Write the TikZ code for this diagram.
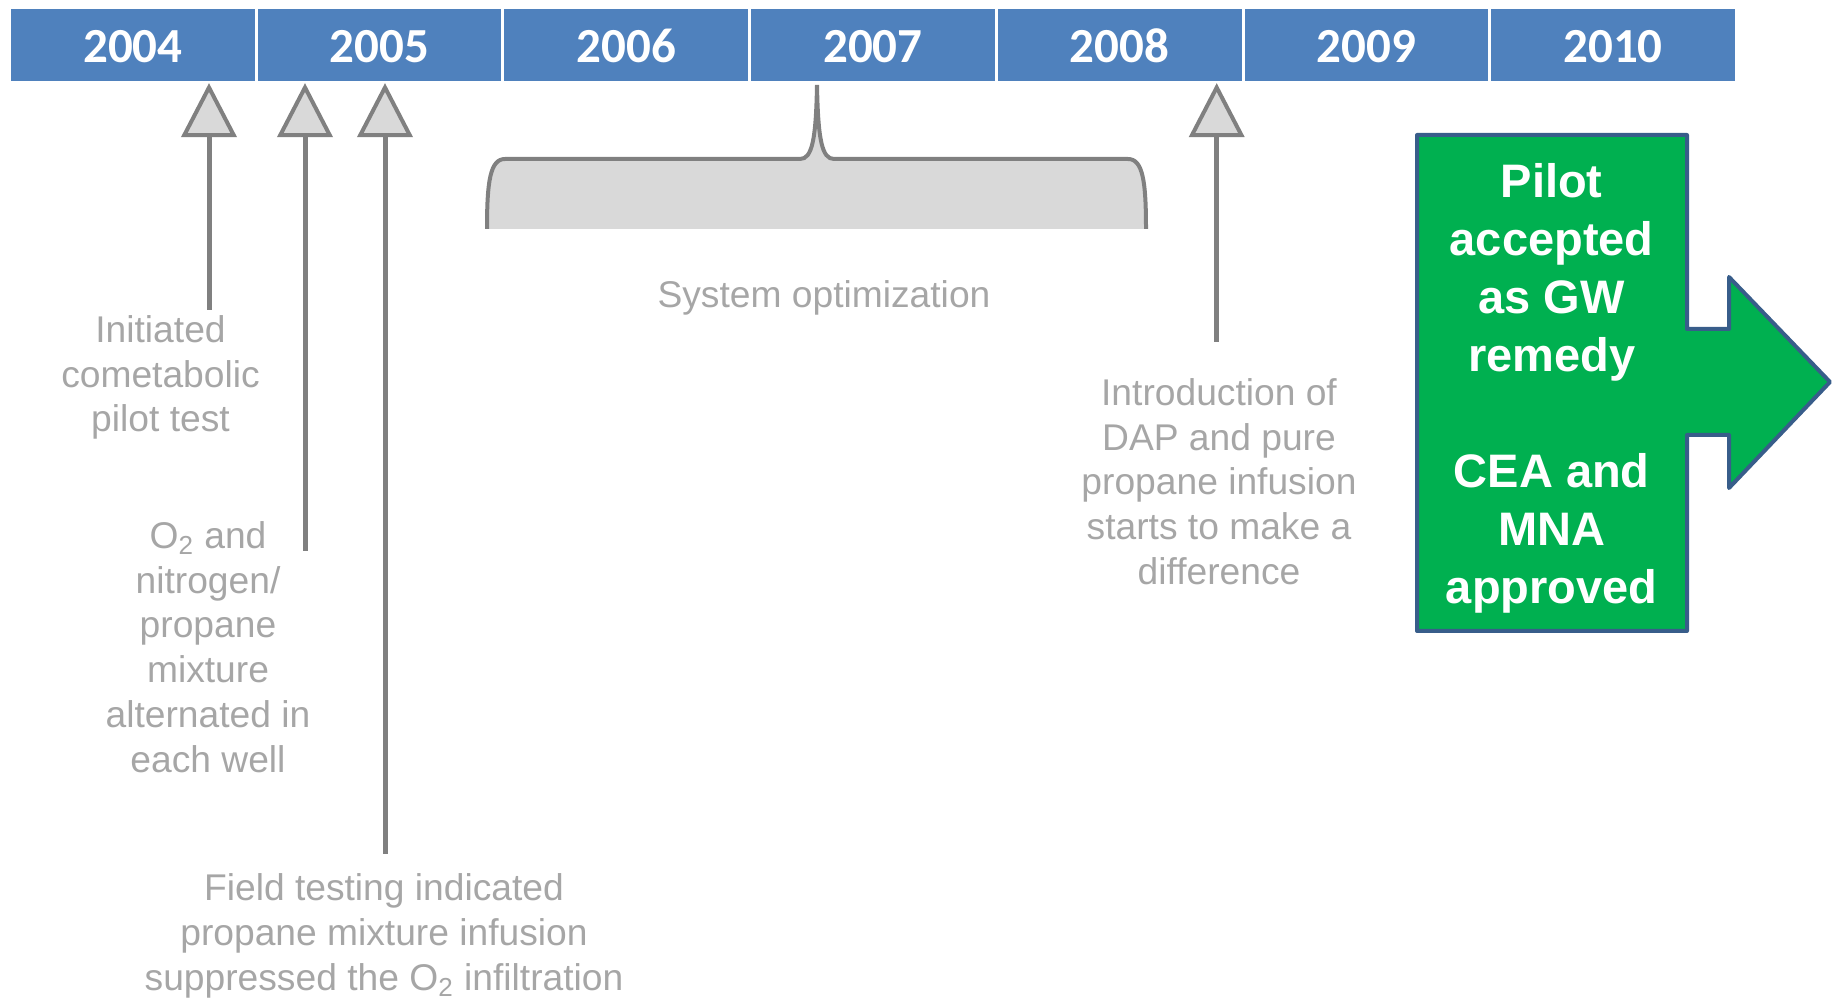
\documentclass[tikz,border=0pt]{standalone}
\usepackage{fontspec}
\setmainfont{Liberation Sans}
\newfontfamily\yearfont{Carlito}
\usetikzlibrary{arrows.meta}
\definecolor{BarBlue}{RGB}{79,129,189}
\definecolor{LineGray}{RGB}{128,128,128}
\definecolor{TipGray}{RGB}{217,217,217}
\definecolor{NoteGray}{RGB}{166,166,166}
\definecolor{RemedyGreen}{RGB}{0,176,80}
\definecolor{EdgeBlue}{RGB}{56,93,138}

\begin{document}
\begin{tikzpicture}[x=0.5pt, y=-0.5pt]
    \tikzset{
        yearbox/.style={rectangle, fill=BarBlue, text=white, inner sep=0pt,
            font=\yearfont\bfseries\fontsize{24.5}{29}\selectfont,
            minimum width=121.85pt, minimum height=35.85pt, text height=17.8pt},
        note/.style={text=NoteGray, align=center, inner sep=0pt,
            font=\fontsize{18.6}{22.4}\selectfont},
        pointer/.style={draw=LineGray, line width=2.5pt, shorten >=1pt,
            -{Triangle[length=27pt, width=27.5pt, line width=2pt, fill=TipGray]}},
        brace/.style={draw=LineGray, line width=2pt, fill=TipGray},
        callout/.style={draw=EdgeBlue, line width=2pt, fill=RemedyGreen,
            line join=round},
        calloutText/.style={text=white, align=center, inner sep=0pt,
            font=\bfseries\fontsize{23.5}{29}\selectfont}
    }
    \useasboundingbox (0,0) rectangle (1838,999);
    % year bar
    \foreach \yr [count=\i from 0] in {2004,...,2010}
        \node[yearbox] (yr\yr) at ({132.85+\i*246.7}, 44.85) {\yr};
    % notes
    \node[note, anchor=north] (pilot) at (160.5,315)
        {Initiated\\cometabolic\\pilot test};
    \node[note, anchor=north] (alternate) at (208,521)
        {O\textsubscript{2} and\\nitrogen/\\propane\\mixture\\alternated in\\each well};
    \node[note, anchor=north] (fieldtest) at (384,873.5)
        {Field testing indicated\\propane mixture infusion\\suppressed the O\textsubscript{2} infiltration};
    \node[note, anchor=base] (optim) at (824,308) {System optimization};
    \node[note, anchor=north] (dap) at (1219,378)
        {Introduction of\\DAP and pure\\propane infusion\\starts to make a\\difference};
    % pointers up to the year bar
    \coordinate (s-pilot) at (209,310);
    \coordinate (s-alt) at (305,550.7);
    \coordinate (s-field) at (385,854);
    \coordinate (s-dap) at (1216.7,342);
    \draw[pointer] (s-pilot) -- (s-pilot |- yr2004.south);
    \draw[pointer] (s-alt) -- (s-alt |- yr2005.south);
    \draw[pointer] (s-field) -- (s-field |- yr2005.south);
    \draw[pointer] (s-dap) -- (s-dap |- yr2008.south);
    % brace over 2006--2008
    \draw[brace] (487,229) .. controls (487,182) and (490,159) .. (505,159)
        -- (800,159) .. controls (812,159) and (816,140) .. (817,85)
        .. controls (818,140) and (822,159) .. (834,159)
        -- (1128,159) .. controls (1143,159) and (1146,182) .. (1146,229);
    % remedy callout
    \draw[callout] (1417,135) -- (1687,135) -- (1687,329) -- (1729,329)
        -- (1729,277) -- (1830,382) -- (1729,488) -- (1729,435)
        -- (1687,435) -- (1687,631) -- (1417,631) -- cycle;
    \node[calloutText, anchor=north] (remedy) at (1551.7,163.5)
        {Pilot\\accepted\\as GW\\remedy\\[29pt]CEA and\\MNA\\approved};
\end{tikzpicture}
\end{document}
